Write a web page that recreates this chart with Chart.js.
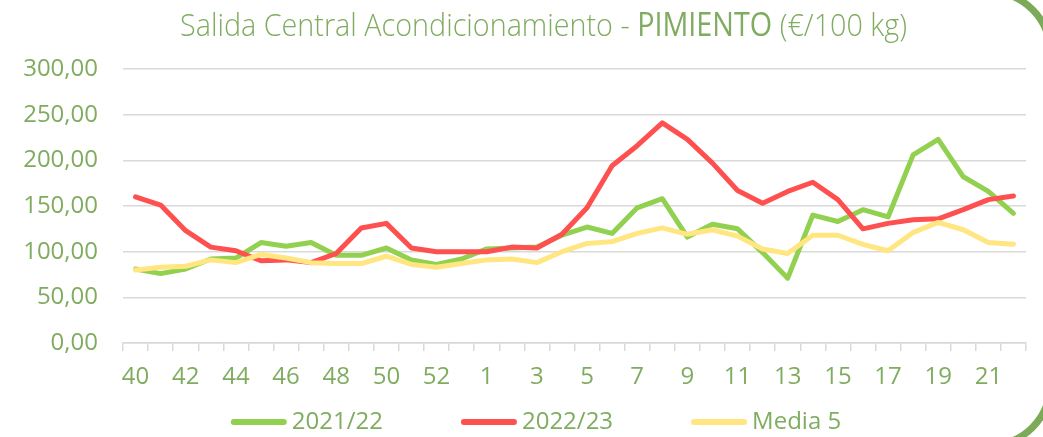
<!DOCTYPE html>
<html>
<head>
<meta charset="utf-8">
<script src="https://cdn.jsdelivr.net/npm/chart.js@4.4.0/dist/chart.umd.min.js"></script>
<style>
  html, body { margin: 0; padding: 0; background: #fff; }
  #wrap { width: 1043px; height: 437px; position: relative; }
</style>
</head>
<body>
<div id="wrap"><canvas id="precios"></canvas></div>
<script>
/* Datos: semanas de campaña (40..53, 1..22) */
const semanas = ["40", "41", "42", "43", "44", "45", "46", "47", "48", "49", "50", "51", "52", "53",
  "1", "2", "3", "4", "5", "6", "7", "8", "9", "10", "11", "12", "13", "14", "15", "16", "17",
  "18", "19", "20", "21", "22"];

const campana2122 = [81, 76, 81, 92, 93, 110, 106, 110, 96, 96, 104, 91, 86, 92,
  103, 104, 105, 118, 127, 120, 148, 158, 116, 130, 125, 99, 71, 140, 133, 146, 138,
  206, 223, 182, 166, 142];

const campana2223 = [160, 151, 123, 105, 101, 90, 91, 88, 98, 126, 131, 104, 100, 100,
  100, 105, 104, 119, 148, 194, 216, 241, 223, 197, 167, 153, 166, 176, 157, 125, 131,
  135, 136, 146, 157, 161];

const media5 = [80, 83, 84, 91, 88, 97, 93, 88, 87, 87, 95, 86, 83, 87,
  91, 92, 88, 100, 109, 111, 120, 126, 119, 124, 117, 103, 98, 118, 118, 108, 101,
  121, 132, 124, 110, 108];

const ejeY = { min: 0, max: 300, paso: 50 };

const verdeTexto = "#7FAC5F";
const gris = "#D9D9D9";
const fuente = '"Open Sans", "Noto Sans", sans-serif';

/* Titulo con dos pesos y el marco redondeado del recuadro */
const tituloPlugin = {
  id: "titulo",
  afterDraw(chart) {
    const ctx = chart.ctx;
    ctx.save();
    const partes = [
      { t: "Salida Central Acondicionamiento - ", w: 300 },
      { t: "PIMIENTO", w: 400 },
      { t: " (€/100 kg)", w: 300 }
    ];
    let total = 0;
    partes.forEach(p => {
      ctx.font = p.w + " 32px " + fuente;
      p.len = ctx.measureText(p.t).width;
      total += p.len;
    });
    ctx.translate(180, 36);
    ctx.scale(727 / total, 1);
    ctx.fillStyle = verdeTexto;
    ctx.textBaseline = "alphabetic";
    let x = 0;
    partes.forEach(p => {
      ctx.font = p.w + " 32px " + fuente;
      ctx.fillText(p.t, x, 0);
      x += p.len;
    });
    ctx.restore();

    // marco
    ctx.save();
    ctx.strokeStyle = "#7BAA58";
    ctx.lineWidth = 7;
    ctx.beginPath();
    ctx.roundRect(-40, -8, 1090, 453, 60);
    ctx.stroke();
    ctx.restore();
  }
};

/* Leyenda inferior */
const leyendaPlugin = {
  id: "leyenda",
  afterDraw(chart) {
    const ctx = chart.ctx;
    ctx.save();
    ctx.font = "24px " + fuente;
    const items = chart.data.datasets.map(ds => ({
      label: ds.label, color: ds.borderColor, tw: ctx.measureText(ds.label).width
    }));
    const caja = 56, sep = 5, hueco = 78;
    let total = 0;
    items.forEach((it, i) => { total += caja + sep + it.tw + (i > 0 ? hueco : 0); });
    let x = 536 - total / 2;
    const y = 422;
    items.forEach(it => {
      ctx.strokeStyle = it.color;
      ctx.lineWidth = 6;
      ctx.lineCap = "round";
      ctx.beginPath();
      ctx.moveTo(x + 3, y);
      ctx.lineTo(x + caja - 3, y);
      ctx.stroke();
      ctx.fillStyle = verdeTexto;
      ctx.textBaseline = "middle";
      ctx.fillText(it.label, x + caja + sep, y);
      x += caja + sep + it.tw + hueco;
    });
    ctx.restore();
  }
};

const ctx = document.getElementById("precios").getContext("2d");
const precios = new Chart(ctx, {
  type: "line",
  data: {
    labels: semanas,
    datasets: [
      {
        label: "2021/22",
        data: campana2122,
        borderColor: "#92D050",
        backgroundColor: "#92D050",
        order: 3
      },
      {
        label: "2022/23",
        data: campana2223,
        borderColor: "#FF5050",
        backgroundColor: "#FF5050",
        order: 2
      },
      {
        label: "Media 5",
        data: media5,
        borderColor: "#FFE680",
        backgroundColor: "#FFE680",
        order: 1
      }
    ]
  },
  options: {
    responsive: true,
    maintainAspectRatio: false,
    animation: false,
    layout: { padding: { top: 69, right: 17, left: 0, bottom: 0 } },
    elements: {
      line: { borderWidth: 5, tension: 0, borderJoinStyle: "round", borderCapStyle: "round" },
      point: { radius: 0, hoverRadius: 0 }
    },
    plugins: {
      legend: { display: false },
      title: { display: false },
      tooltip: { enabled: false }
    },
    scales: {
      x: {
        offset: true,
        afterFit(scale) { scale.height = 94; },
        grid: {
          display: true,
          drawOnChartArea: false,
          offset: true,
          tickLength: 8,
          color: gris,
          lineWidth: 1.5
        },
        border: { display: true, color: gris, width: 1.5 },
        ticks: {
          autoSkip: false,
          maxRotation: 0,
          padding: 12,
          color: verdeTexto,
          font: { family: fuente, size: 24 },
          callback(val, i) { return i % 2 === 0 ? this.getLabelForValue(val) : ""; }
        }
      },
      y: {
        min: ejeY.min,
        max: ejeY.max,
        afterFit(scale) { scale.width = 123; },
        grid: { color: gris, lineWidth: 1.5, drawTicks: false },
        border: { display: false },
        ticks: {
          stepSize: ejeY.paso,
          padding: 25,
          color: verdeTexto,
          font: { family: fuente, size: 24 },
          callback(v) { return v.toFixed(2).replace(".", ","); }
        }
      }
    }
  },
  plugins: [tituloPlugin, leyendaPlugin]
});
</script>
</body>
</html>
